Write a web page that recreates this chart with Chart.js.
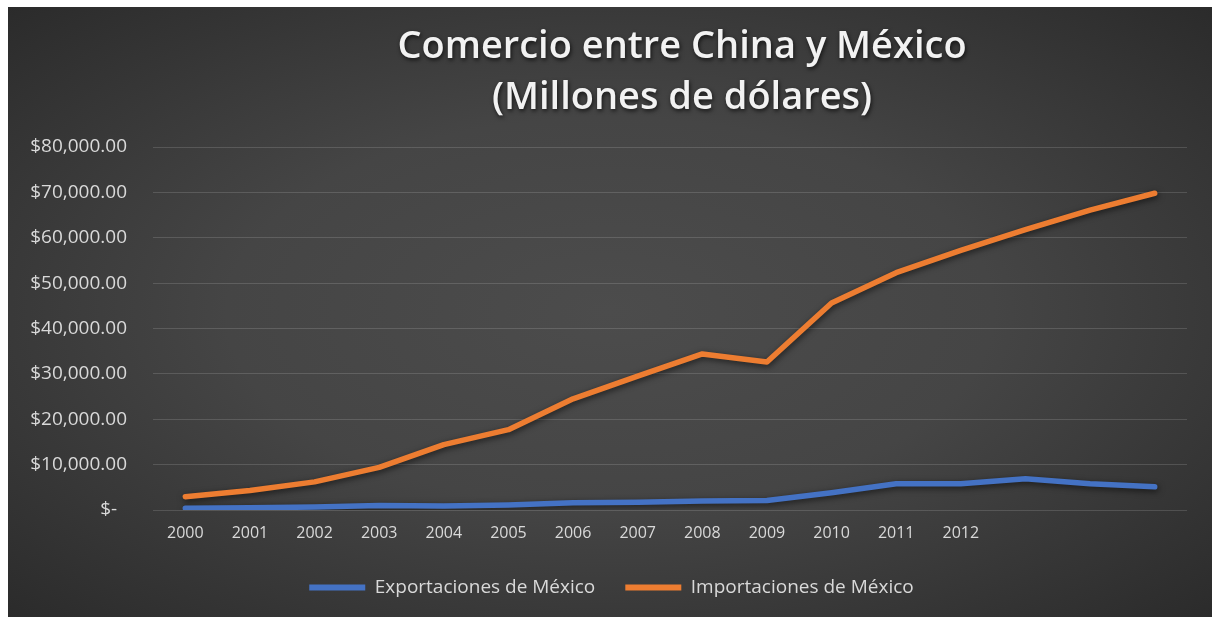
<!DOCTYPE html>
<html>
<head>
<meta charset="utf-8">
<script src="https://cdn.jsdelivr.net/npm/chart.js@4.4.1/dist/chart.umd.min.js"></script>
<style>
  html, body { margin: 0; padding: 0; background: #ffffff; }
  #frame {
    position: absolute; left: 8px; top: 7px; width: 1204px; height: 610px;
    background: radial-gradient(ellipse at 50% 50%, #4c4c4c 0%, #454545 45%, #2b2b2b 100%);
  }
  canvas { display: block; }
</style>
</head>
<body>
<div id="frame"><canvas id="chart" width="1204" height="610"></canvas></div>
<script>
// Años (las últimas tres categorías no tienen etiqueta en el original)
const years = ['2000', '2001', '2002', '2003', '2004', '2005', '2006', '2007',
               '2008', '2009', '2010', '2011', '2012', '', '', ''];

// Millones de dólares
const exportaciones = [400, 500, 650, 1000, 900, 1100, 1600, 1700,
                       2000, 2100, 3800, 5800, 5800, 6900, 5800, 5100];
const importaciones = [2900, 4300, 6200, 9400, 14400, 17700, 24500, 29500,
                       34400, 32600, 45600, 52300, 57200, 61800, 66100, 69800];

const yTicks = [0, 10000, 20000, 30000, 40000, 50000, 60000, 70000, 80000];
const titleLines = ['Comercio entre China y México', '(Millones de dólares)'];

const FONT = "'Open Sans', 'DejaVu Sans', sans-serif";

function money(v) {
    if (v === 0) return '$-  ';
    return '$' + v.toLocaleString('en-US', { minimumFractionDigits: 2, maximumFractionDigits: 2 });
}

// Sombra de las líneas
const lineShadow = {
    id: 'lineShadow',
    beforeDatasetDraw(chart) {
        const ctx = chart.ctx;
        ctx.save();
        ctx.shadowColor = 'rgba(0, 0, 0, 0.6)';
        ctx.shadowBlur = 6;
        ctx.shadowOffsetX = 1;
        ctx.shadowOffsetY = 2;
    },
    afterDatasetDraw(chart) {
        chart.ctx.restore();
    }
};

// La leyenda va centrada sobre todo el lienzo, no sólo el área con padding
const legendShift = {
    id: 'legendShift',
    afterLayout(chart) {
        chart.legend.left += 14;
        chart.legend.right += 14;
    }
};

// Título en dos líneas, centrado sobre el área del gráfico
const titleDraw = {
    id: 'titleDraw',
    afterDraw(chart) {
        const ctx = chart.ctx;
        const area = chart.chartArea;
        const cx = (area.left + area.right) / 2 + 12;
        ctx.save();
        ctx.font = '600 38px ' + FONT;
        ctx.fillStyle = '#f2f2f2';
        ctx.textAlign = 'center';
        ctx.textBaseline = 'middle';
        ctx.shadowColor = 'rgba(0, 0, 0, 0.7)';
        ctx.shadowBlur = 4;
        ctx.shadowOffsetX = 1;
        ctx.shadowOffsetY = 2;
        ctx.fillText(titleLines[0], cx, 40);
        ctx.fillText(titleLines[1], cx, 91);
        ctx.restore();
    }
};

new Chart(document.getElementById('chart'), {
    type: 'line',
    data: {
        labels: years,
        datasets: [
            {
                label: 'Exportaciones de México',
                data: exportaciones,
                borderColor: '#4472c4',
                backgroundColor: '#4472c4',
                borderWidth: 5.5,
                pointRadius: 0,
                tension: 0,
                borderCapStyle: 'round',
                borderJoinStyle: 'round'
            },
            {
                label: 'Importaciones de México',
                data: importaciones,
                borderColor: '#ed7d31',
                backgroundColor: '#ed7d31',
                borderWidth: 5.5,
                pointRadius: 0,
                tension: 0,
                borderCapStyle: 'round',
                borderJoinStyle: 'round'
            }
        ]
    },
    options: {
        responsive: false,
        animation: false,
        layout: {
            padding: { top: 140, right: 25, left: 0, bottom: 10 }
        },
        plugins: {
            title: { display: false },
            tooltip: { enabled: false },
            legend: {
                display: true,
                position: 'bottom',
                labels: {
                    color: '#d9d9d9',
                    font: { family: FONT, size: 19 },
                    boxWidth: 56,
                    boxHeight: 6,
                    padding: 30,
                    generateLabels(chart) {
                        return chart.data.datasets.map((ds, i) => ({
                            text: ds.label,
                            fillStyle: ds.borderColor,
                            strokeStyle: ds.borderColor,
                            lineWidth: 0,
                            fontColor: '#d9d9d9',
                            datasetIndex: i
                        }));
                    }
                }
            }
        },
        scales: {
            x: {
                offset: true,
                afterFit(scale) { scale.height = 38; },
                grid: { display: false, drawTicks: false },
                border: { display: false },
                ticks: {
                    color: '#d9d9d9',
                    font: { family: FONT, size: 16 },
                    padding: 14,
                    maxRotation: 0,
                    autoSkip: false
                }
            },
            y: {
                min: 0,
                max: 80000,
                afterFit(scale) { scale.width = 145; },
                afterBuildTicks(scale) {
                    scale.ticks = yTicks.map(v => ({ value: v }));
                },
                grid: {
                    color: 'rgba(255, 255, 255, 0.14)',
                    lineWidth: 1,
                    drawTicks: false
                },
                border: { display: false },
                ticks: {
                    color: '#d9d9d9',
                    font: { family: FONT, size: 19 },
                    padding: 26,
                    callback: v => money(v)
                }
            }
        }
    },
    plugins: [lineShadow, legendShift, titleDraw]
});
</script>
</body>
</html>
